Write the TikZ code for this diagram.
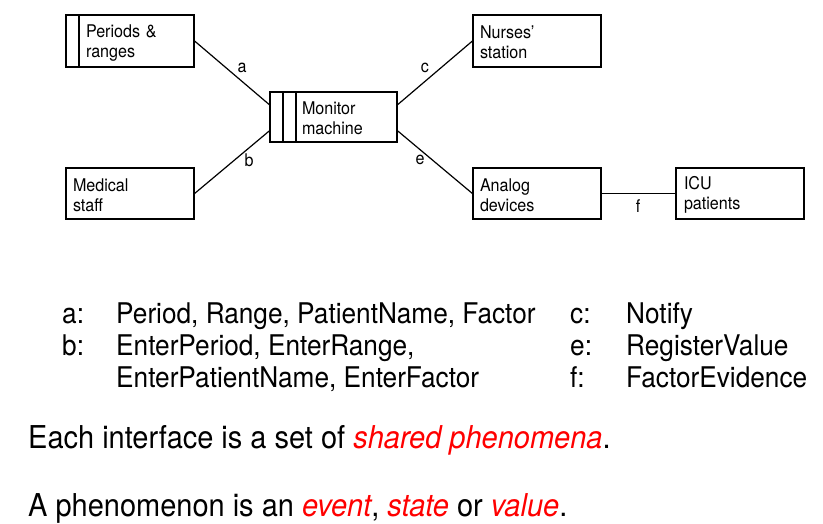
\documentclass[tikz,border=0pt]{standalone}
\usepackage{fontspec}
\setmainfont{TeX Gyre Heros}[FakeStretch=0.92]
\usetikzlibrary{calc}
\definecolor{hl}{RGB}{255,0,0}
\newcommand{\topstrut}{\rule{0pt}{16pt}}
\begin{document}
\begin{tikzpicture}[x=1pt,y=-1pt,
  box/.style={draw, line width=1.2pt, minimum width=128pt, minimum height=52pt,
    inner xsep=0pt, inner ysep=0pt, align=left,
    font=\fontsize{17.5}{20}\selectfont},
  stripeone/.style={path picture={\draw[line width=1.2pt]
    ([xshift=13pt]path picture bounding box.north west) --
    ([xshift=13pt]path picture bounding box.south west);}},
  stripetwo/.style={path picture={\draw[line width=1.2pt]
    ([xshift=13pt]path picture bounding box.north west) --
    ([xshift=13pt]path picture bounding box.south west)
    ([xshift=26pt]path picture bounding box.north west) --
    ([xshift=26pt]path picture bounding box.south west);}},
  conn/.style={line width=1.2pt},
  lbl/.style={font=\fontsize{17.5}{20}\selectfont, inner sep=0pt},
  leg/.style={font=\fontsize{28.5}{32}\selectfont, inner sep=0pt, anchor=base west},
  big/.style={font=\fontsize{31.5}{36}\selectfont, inner sep=0pt, anchor=base west}
]
\useasboundingbox (0,0) rectangle (823,523);

\node[box, stripeone, text width=88pt] (per) at (130,41) {\topstrut Periods \&\\ranges};
\node[box, text width=114pt, minimum height=51pt] (med) at (130,193.5) {\topstrut Medical\\staff};
\node[box, stripetwo, text width=63pt, minimum width=127pt, minimum height=50pt] (mon) at (333.5,117) {\topstrut Monitor\\machine};
\node[box, text width=114pt] (nur) at (537,41) {\topstrut Nurses'\\station};
\node[box, text width=114pt, minimum height=51pt] (ana) at (537,193.5) {\topstrut Analog\\devices};
\node[box, text width=112pt, minimum height=51pt] (icu) at (740,193.5) {\topstrut ICU\\patients};

\coordinate (monA) at ($(mon.north west)!0.26!(mon.south west)$);
\coordinate (monB) at ($(mon.north west)!0.77!(mon.south west)$);
\coordinate (monC) at ($(mon.north east)!0.26!(mon.south east)$);
\coordinate (monE) at ($(mon.north east)!0.77!(mon.south east)$);

\draw[conn] (per.east) -- (monA);
\draw[conn] (med.east) -- (monB);
\draw[conn] (monC) -- (nur.west);
\draw[conn] (monE) -- (ana.west);
\draw[conn] (ana.east) -- (icu.east -| icu.west);

\node[lbl] (la) at (242,68) {a};
\node[lbl] (lb) at (249,160) {b};
\node[lbl] (lc) at (425,68) {c};
\node[lbl] (le) at (420,160) {e};
\node[lbl] (lf) at (638,206) {f};

\node[leg] (ka) at (62,323) {a:};
\node[leg] (ta) at (116,323) {Period, Range, PatientName, Factor};
\node[leg] (kb) at (62,355) {b:};
\node[leg] (tb1) at (116,355) {EnterPeriod, EnterRange,};
\node[leg] (tb2) at (116,387) {EnterPatientName, EnterFactor};
\node[leg] (kc) at (570,323) {c:};
\node[leg] (tc) at (626,323) {Notify};
\node[leg] (ke) at (570,355) {e:};
\node[leg] (te) at (626,355) {RegisterValue};
\node[leg] (kf) at (570,387) {f:};
\node[leg] (tf) at (626,387) {FactorEvidence};

\node[big] (s1) at (28,448) {Each interface is a set of \textcolor{hl}{\itshape shared phenomena}.};
\node[big] (s2) at (28,516) {A phenomenon is an \textcolor{hl}{\itshape event}, \textcolor{hl}{\itshape state} or \textcolor{hl}{\itshape value}.};
\end{tikzpicture}
\end{document}
